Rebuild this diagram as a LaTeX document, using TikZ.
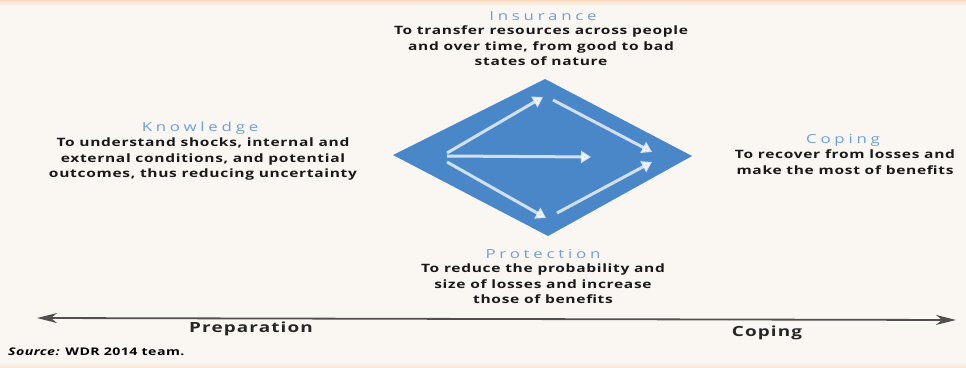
\documentclass[tikz,border=0pt]{standalone}
\usepackage{fontspec}
\setmainfont{Open Sans}
\newfontfamily\bodyfont{Open Sans}[FakeStretch=1.35, LetterSpace=6]
\newfontfamily\ttlfont{Open Sans}[FakeStretch=1.35, LetterSpace=30]
\newfontfamily\phasefont{Open Sans}[FakeStretch=1.35, LetterSpace=8]
\newfontfamily\srcfont{Open Sans}[FakeStretch=1.35, LetterSpace=4]
\usetikzlibrary{arrows.meta}
\definecolor{bg}{HTML}{FAF7F3}
\definecolor{dia}{HTML}{4A87C9}
\definecolor{ttl}{HTML}{6F9FDC}
\definecolor{axis}{HTML}{505050}
\definecolor{edge}{HTML}{F7DCC2}
\tikzset{
  ttlnode/.style={font=\ttlfont\fontsize{12.5}{14}\selectfont, text=ttl, inner sep=0pt},
  bodynode/.style={font=\bodyfont\fontsize{11.5}{15.3}\selectfont\bfseries, text=black!90, align=center, inner sep=0pt},
  inarrow/.style={draw=white, line width=3pt, opacity=0.75, -{Triangle[length=10pt,width=12pt]}},
  axisarrow/.style={draw=axis, line width=1.8pt, {Stealth[length=20pt,width=10pt,inset=6pt]}-{Stealth[length=20pt,width=10pt,inset=6pt]}},
  phase/.style={font=\phasefont\fontsize{14}{16}\selectfont\bfseries, text=black!85, inner sep=0pt}
}
\begin{document}
\begin{tikzpicture}[x=1pt,y=1pt]
\fill[bg] (0,0) rectangle (966,367);
\useasboundingbox (0,0) rectangle (966,367);
\shade[top color=edge, bottom color=bg] (0,367) rectangle (966,361);
\shade[bottom color=edge!70, top color=bg] (0,0) rectangle (966,5);
% diamond
\coordinate (L) at (393,212);
\coordinate (T) at (545,288);
\coordinate (R) at (692,211);
\coordinate (B) at (548,131);
\fill[dia] (L) -- (T) -- (R) -- (B) -- cycle;
% inner arrows
\coordinate (s1) at (447,214);
\coordinate (e1) at (543,270);
\coordinate (s2) at (447,211);
\coordinate (e2) at (591,210);
\coordinate (s3) at (447,205);
\coordinate (e3) at (546,149);
\coordinate (s4) at (553,267);
\coordinate (e4) at (652,215);
\coordinate (s5) at (557,154);
\coordinate (e5) at (652,205);
\draw[inarrow] (s1) -- (e1);
\draw[inarrow] (s2) -- (e2);
\draw[inarrow] (s3) -- (e3);
\draw[inarrow] (s4) -- (e4);
\draw[inarrow] (s5) -- (e5);
% titles and texts
\node[ttlnode] (insT) at (543,351) {Insurance};
\node[bodynode, anchor=north] (insB) at (541,341) {To transfer resources across people\\and over time, from good to bad\\states of nature};
\node[ttlnode] (knoT) at (200,239) {Knowledge};
\node[bodynode, anchor=north] (knoB) at (203,229) {To understand shocks, internal and\\external conditions, and potential\\outcomes, thus reducing uncertainty};
\node[ttlnode] (copT) at (843,227) {Coping};
\node[bodynode, anchor=north] (copB) at (845,217) {To recover from losses and\\make the most of benefits};
\node[ttlnode] (proT) at (543,113) {Protection};
\node[bodynode, anchor=north] (proB) at (543,103) {To reduce the probability and\\size of losses and increase\\those of benefits};
% axis
\coordinate (aL) at (37,49);
\coordinate (aR) at (956,47);
\draw[axisarrow] (aL) -- (aR);
\node[phase] (prep) at (251,38) {Preparation};
\node[phase] (cop) at (767,34) {Coping};
\node[anchor=west, inner sep=0pt, font=\srcfont\fontsize{10.5}{12}\selectfont\bfseries] (src) at (8,15) {\textit{Source:} WDR 2014 team.};
\end{tikzpicture}
\end{document}
